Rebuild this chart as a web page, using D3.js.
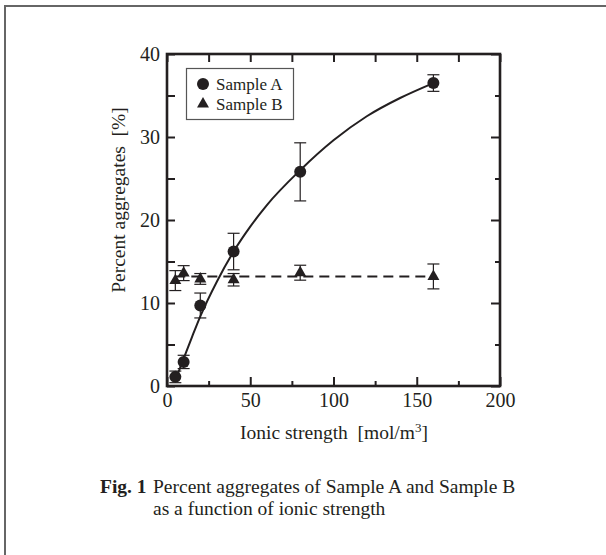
<!DOCTYPE html>
<html><head><meta charset="utf-8">
<script src="https://cdn.jsdelivr.net/npm/d3@7"></script>
<style>
html,body{margin:0;padding:0;background:#fff;}
svg{display:block;}
text{font-family:"Liberation Serif","Times New Roman",serif;fill:#231f20;}
</style></head>
<body>
<script>
// ---- data ----
const ionic = [5, 10, 20, 40, 80, 160];
const sampleA = [1.1, 2.9, 9.7, 16.2, 25.8, 36.5];
const sampleAErr = [0.7, 0.8, 1.5, 2.2, 3.5, 1.0];
const sampleB = [12.7, 13.6, 12.9, 12.8, 13.65, 13.2];
const sampleBErr = [1.2, 0.9, 0.65, 0.75, 0.9, 1.5];
const fitAx = [5, 10, 15, 20, 30, 40, 50, 60, 80, 100, 120, 140, 160];
const fitAy = [0.7, 3.3, 5.9, 8.4, 12.6, 16.2, 19.2, 21.8, 26.0, 29.6, 32.5, 34.7, 36.5];
const fitBx = [5, 160];
const fitBy = [13.2, 13.2];
const xMajor = [0, 50, 100, 150, 200];
const xMinor = [25, 75, 125, 175];
const yMajor = [0, 10, 20, 30, 40];
const yMinor = [5, 15, 25, 35];
const legendLabels = ["Sample A", "Sample B"];
const xTitle = "Ionic strength  [mol/m";
const yTitle = "Percent aggregates  [%]";
const captionHead = "Fig. 1";
const captionLines = ["Percent aggregates of Sample A and Sample B", "as a function of ionic strength"];

const W = 606, H = 555, ink = "#231f20";
const svg = d3.select("body").append("svg").attr("width", W).attr("height", H);

// outer frame
svg.append("path").attr("d", "M5,560 L5,6 L612,6").attr("fill", "none")
  .attr("stroke", "#666").attr("stroke-width", 2);

const x = d3.scaleLinear().domain([0, 200]).range([167, 500]);
const y = d3.scaleLinear().domain([0, 40]).range([386, 54]);

function styleAxis(g) {
  g.select(".domain").remove();
  g.selectAll(".tick line").attr("stroke", ink).attr("stroke-width", 2);
  g.selectAll(".tick text").attr("font-size", 20).attr("fill", ink)
    .attr("font-family", "'Liberation Serif','Times New Roman',serif");
}
// bottom
svg.append("g").attr("transform", `translate(0,386)`)
  .call(d3.axisBottom(x).tickValues(xMajor).tickSizeInner(-9).tickSizeOuter(0).tickPadding(7)).call(styleAxis);
svg.append("g").attr("transform", `translate(0,386)`)
  .call(d3.axisBottom(x).tickValues(xMinor).tickSizeInner(-5).tickSizeOuter(0).tickFormat("")).call(styleAxis);
// top
svg.append("g").attr("transform", `translate(0,54)`)
  .call(d3.axisTop(x).tickValues(xMajor.concat(xMinor)).tickSizeInner(-8).tickSizeOuter(0).tickFormat("")).call(styleAxis);
// left
svg.append("g").attr("transform", `translate(167,0)`)
  .call(d3.axisLeft(y).tickValues(yMajor).tickSizeInner(-8).tickSizeOuter(0).tickPadding(7)).call(styleAxis);
svg.append("g").attr("transform", `translate(167,0)`)
  .call(d3.axisLeft(y).tickValues(yMinor).tickSizeInner(-8).tickSizeOuter(0).tickFormat("")).call(styleAxis);
// right
svg.append("g").attr("transform", `translate(500,0)`)
  .call(d3.axisRight(y).tickValues(yMajor).tickSizeInner(-9).tickSizeOuter(0).tickFormat("")).call(styleAxis);
svg.append("g").attr("transform", `translate(500,0)`)
  .call(d3.axisRight(y).tickValues(yMinor).tickSizeInner(-5).tickSizeOuter(0).tickFormat("")).call(styleAxis);

// plot frame
svg.append("rect").attr("x", x(0)).attr("y", y(40)).attr("width", x(200) - x(0)).attr("height", y(0) - y(40))
  .attr("fill", "none").attr("stroke", ink).attr("stroke-width", 2.6);

// fit lines
const lineA = d3.line().x((d, i) => x(fitAx[i])).y(d => y(d)).curve(d3.curveMonotoneX);
svg.append("path").attr("d", lineA(fitAy)).attr("fill", "none").attr("stroke", ink).attr("stroke-width", 2);
const lineB = d3.line().x((d, i) => x(fitBx[i])).y(d => y(d));
svg.append("path").attr("d", lineB(fitBy)).attr("fill", "none").attr("stroke", ink)
  .attr("stroke-width", 2).attr("stroke-dasharray", "10,6");

// error bars
function errBars(vals, errs) {
  const g = svg.append("g").attr("stroke", ink).attr("stroke-width", 1.2).attr("fill", "none");
  vals.forEach((v, i) => {
    const cx = x(ionic[i]), y1 = y(v + errs[i]), y2 = y(v - errs[i]);
    g.append("line").attr("x1", cx).attr("x2", cx).attr("y1", y1).attr("y2", y2);
    g.append("line").attr("x1", cx - 6).attr("x2", cx + 6).attr("y1", y1).attr("y2", y1);
    g.append("line").attr("x1", cx - 6).attr("x2", cx + 6).attr("y1", y2).attr("y2", y2);
  });
}
errBars(sampleA, sampleAErr);
errBars(sampleB, sampleBErr);

// markers
svg.append("g").selectAll("circle").data(sampleA).join("circle")
  .attr("cx", (d, i) => x(ionic[i])).attr("cy", d => y(d)).attr("r", 6).attr("fill", ink);
const tri = d3.symbol().type(d3.symbolTriangle).size(62);
svg.append("g").selectAll("path").data(sampleB).join("path")
  .attr("d", tri).attr("transform", (d, i) => `translate(${x(ionic[i])},${y(d)})`).attr("fill", ink);

// legend
svg.append("rect").attr("x", 186.5).attr("y", 68.5).attr("width", 107).attr("height", 51)
  .attr("fill", "#fff").attr("stroke", "#555").attr("stroke-width", 1.2);
svg.append("circle").attr("cx", 203).attr("cy", 84).attr("r", 6).attr("fill", ink);
svg.append("path").attr("d", tri).attr("transform", "translate(203,104)").attr("fill", ink);
svg.append("text").attr("x", 216).attr("y", 90).attr("font-size", 17).text(legendLabels[0]);
svg.append("text").attr("x", 216).attr("y", 110).attr("font-size", 17).text(legendLabels[1]);

// axis titles
const xt = svg.append("text").attr("x", 334).attr("y", 439).attr("font-size", 19.5)
  .attr("text-anchor", "middle").style("white-space", "pre");
xt.append("tspan").text(xTitle);
xt.append("tspan").attr("font-size", 13).attr("dy", -7).text("3");
xt.append("tspan").attr("dy", 7).text("]");

svg.append("text").attr("transform", "translate(125,200) rotate(-90)").attr("font-size", 19.5)
  .attr("text-anchor", "middle").style("white-space", "pre").text(yTitle);

// caption
svg.append("text").attr("x", 100).attr("y", 493).attr("font-size", 19.5).attr("font-weight", "bold").text(captionHead);
captionLines.forEach((t, i) => {
  svg.append("text").attr("x", 153).attr("y", 493 + i * 22).attr("font-size", 19.5).text(t);
});
</script>
</body></html>
